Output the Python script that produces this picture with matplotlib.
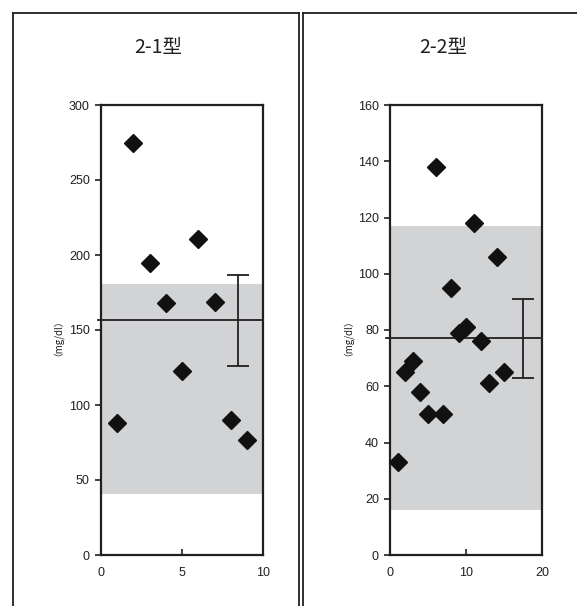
import matplotlib
matplotlib.use("Agg")
import matplotlib.pyplot as plt
from matplotlib.lines import Line2D

plt.rcParams['font.family'] = ['Liberation Sans', 'Noto Sans CJK JP', 'DejaVu Sans']

# ---- data ----
titles = ["2-1型", "2-2型"]
x1 = [1, 2, 3, 4, 5, 6, 7, 8, 9]
y1 = [88, 275, 195, 168, 123, 211, 169, 90, 77]
x2 = [1, 2, 3, 4, 5, 6, 7, 8, 9, 10, 11, 12, 13, 14, 15]
y2 = [33, 65, 69, 58, 50, 138, 50, 95, 79, 81, 118, 76, 61, 106, 65]
mean1, sd1, errx1 = 156.5, 30.5, 8.45
mean2, sd2, errx2 = 77, 14, 17.5
band1 = (41, 181)
band2 = (16, 117)
xlim1, xticks1 = (0, 10), [0, 5, 10]
xlim2, xticks2 = (0, 20), [0, 10, 20]
ylim1, yticks1 = (0, 300), [0, 50, 100, 150, 200, 250, 300]
ylim2, yticks2 = (0, 160), [0, 20, 40, 60, 80, 100, 120, 140, 160]
ylabel = "（mg/dl）"

W, H = 577, 606
fig = plt.figure(figsize=(W / 100, H / 100), dpi=100)

def px(x0, y0, x1_, y1_):
    return [x0 / W, 1 - y1_ / H, (x1_ - x0) / W, (y1_ - y0) / H]

# panel frames
frame_kw = dict(color='#231f20', lw=1.3)
for xs, ys in [
    ([13, 13], [H + 5, 13]), ([13, 298.5], [13, 13]), ([298.5, 298.5], [13, H + 5]),
    ([302.5, 302.5], [H + 5, 13]), ([302.5, W + 5], [13, 13]),
]:
    fig.add_artist(Line2D([x / W for x in xs], [1 - y / H for y in ys], **frame_kw))

panels = [
    (px(101, 105, 263.3, 555), x1, y1, mean1, sd1, errx1, band1, xlim1, xticks1, ylim1, yticks1,
     (-0.016, 0.983), 158, 53),
    (px(390, 105, 542.3, 555), x2, y2, mean2, sd2, errx2, band2, xlim2, xticks2, ylim2, yticks2,
     (-0.028, 0.987), 443, 343),
]

for i, (rect, xs, ys, m, sd, ex, band, xl, xt, yl, yt, mext, tx, lx) in enumerate(panels):
    ax = fig.add_axes(rect)
    ax.axhspan(band[0], band[1], color='#d2d3d5', lw=0, zorder=0)
    ax.plot(xs, ys, 'D', color='#111111', markersize=9, zorder=3, clip_on=False)
    ax.plot(mext, [m, m], color='#231f20', lw=1.3, transform=ax.get_yaxis_transform(),
            clip_on=False, zorder=2)
    ax.errorbar([ex], [m], yerr=[sd], fmt='none', ecolor='#231f20', elinewidth=1.3,
                capsize=8, capthick=1.3, zorder=2)
    ax.set_xlim(*xl)
    ax.set_ylim(*yl)
    ax.set_xticks(xt)
    ax.set_yticks(yt)
    for s in ax.spines.values():
        s.set_linewidth(1.6)
        s.set_color('#231f20')
    ax.tick_params(axis='y', direction='out', length=4, width=1.2, labelsize=9, pad=4,
                   colors='#231f20')
    ax.tick_params(axis='x', direction='in', length=4, width=1.2, labelsize=9, pad=9,
                   colors='#231f20')
    fig.text(tx / W, 1 - 47 / H, titles[i], ha='center', va='center', fontsize=14,
             family=['Noto Sans CJK JP', 'DejaVu Sans'], color='#231f20')
    fig.text(lx / W, 1 - 333 / H, ylabel, ha='center', va='center', fontsize=7,
             rotation=90, family=['Noto Sans CJK JP', 'DejaVu Sans'], color='#231f20')

fig.savefig("out.png", dpi=100)
